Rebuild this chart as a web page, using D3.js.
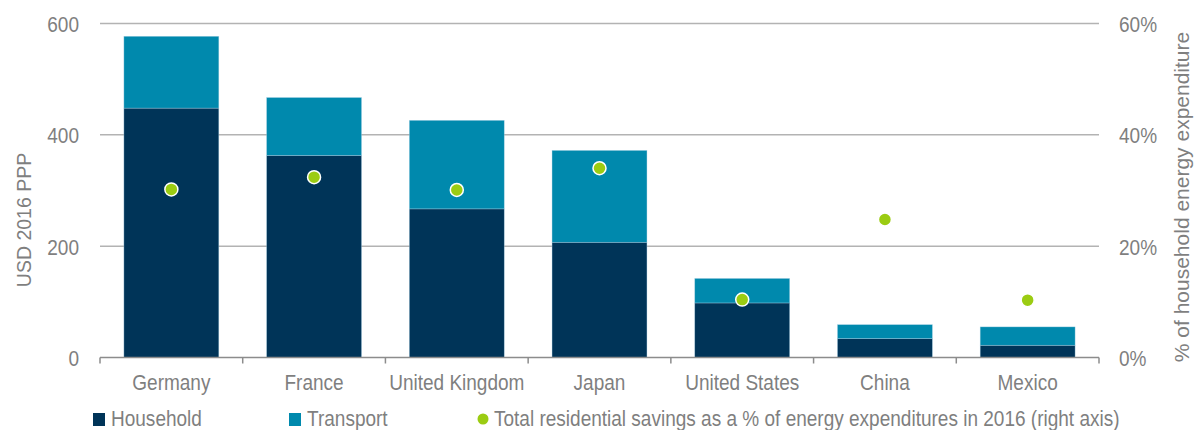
<!DOCTYPE html>
<html><head><meta charset="utf-8">
<script src="https://cdn.jsdelivr.net/npm/d3@7"></script>
<style>body{margin:0;background:#fff}svg{display:block;font-family:"Liberation Sans",Arial,sans-serif}</style>
</head><body><svg id="c" width="1198" height="430"></svg>
<script>
const categories = ["Germany","France","United Kingdom","Japan","United States","China","Mexico"];
const household = [448, 363, 267, 207, 98, 34, 22];
const transport = [129, 104, 159, 165, 44, 25, 33];
const savingsPct = [30.2, 32.4, 30.1, 34.0, 10.4, 24.8, 10.3];
const leftTicks = [0, 200, 400, 600];
const rightTicks = [0, 20, 40, 60];
const seriesNames = ["Household","Transport","Total residential savings as a % of energy expenditures in 2016 (right axis)"];
const colors = {Household:"#003458", Transport:"#0089ad", dot:"#9bcc12"};

const svg = d3.select("#c");
const L = 100, R = 1099, T = 23.5, B = 357.5;
const SX = 0.865, FS = 22;
const x = d3.scaleBand().domain(categories).range([L, R]).paddingInner(0.335).paddingOuter(0.1675);
const xb = d3.scaleBand().domain(categories).range([L, R]);
const y = d3.scaleLinear().domain([0, 600]).range([B, T]);
const y2 = d3.scaleLinear().domain([0, 60]).range([B, T]);
const grey = "#7f7f7f";

function label(sel, tx, ty, txt, anchor) {
  const g = sel.append("g").attr("transform", `translate(${tx},${ty}) scale(${SX},1)`);
  g.append("text").attr("text-anchor", anchor || "start").attr("font-size", FS).attr("fill", grey).text(txt);
  return g;
}

// gridlines
svg.append("g").selectAll("line").data(leftTicks.filter(d=>d>0)).join("line")
  .attr("x1", L).attr("x2", R).attr("y1", d=>y(d)).attr("y2", d=>y(d))
  .attr("stroke", "#b3b3b3").attr("stroke-width", 1.5);

// stacked bars
const data = categories.map((c,i)=>({cat:c, Household:household[i], Transport:transport[i]}));
const stack = d3.stack().keys(["Household","Transport"])(data);
svg.append("g").selectAll("g").data(stack).join("g").attr("fill", s=>colors[s.key])
  .selectAll("rect").data(s=>s).join("rect")
  .attr("x", d=>x(d.data.cat)).attr("width", x.bandwidth())
  .attr("y", d=>y(d[1])).attr("height", d=>y(d[0])-y(d[1]))
  .attr("stroke", "rgba(170,210,230,0.6)").attr("stroke-width", 0.6);

// bottom axis
const ax = svg.append("g");
ax.append("line").attr("x1", L).attr("x2", R).attr("y1", B).attr("y2", B).attr("stroke", "#8c8c8c").attr("stroke-width", 1.5);
const bounds = categories.map(c=>xb(c)).concat([R]);
ax.selectAll("line.t").data(bounds).join("line").attr("class","t")
  .attr("x1", d=>d).attr("x2", d=>d).attr("y1", B).attr("y2", B+6)
  .attr("stroke", "#8c8c8c").attr("stroke-width", 1.5);
categories.forEach(c => label(ax, xb(c)+xb.bandwidth()/2, 390, c, "middle"));

// left ticks
const lt = svg.append("g");
leftTicks.forEach(d => label(lt, 79, y(d)+8.5, d, "end"));
// right ticks
const rt = svg.append("g");
rightTicks.forEach(d => label(rt, 1119, y2(d)+8.5, d+"%", "start"));

// axis titles
svg.append("text").attr("transform","translate(31,220) rotate(-90)").attr("text-anchor","middle")
  .attr("font-size", 19.5).attr("fill", grey).text("USD 2016 PPP");
svg.append("text").attr("transform","translate(1189,197) rotate(-90)").attr("text-anchor","middle")
  .attr("font-size", 21).attr("fill", grey).text("% of household energy expenditure");

// dots
svg.append("g").selectAll("circle").data(savingsPct).join("circle")
  .attr("cx", (d,i)=>xb(categories[i])+xb.bandwidth()/2).attr("cy", d=>y2(d))
  .attr("r", 6.5).attr("fill", colors.dot).attr("stroke", "#fff").attr("stroke-width", 1.5);

// legend
const lg = svg.append("g");
lg.append("rect").attr("x", 93).attr("y", 413).attr("width", 12).attr("height", 13).attr("fill", colors.Household);
label(lg, 111, 426, seriesNames[0]);
lg.append("rect").attr("x", 289).attr("y", 413).attr("width", 12).attr("height", 13).attr("fill", colors.Transport);
label(lg, 307, 426, seriesNames[1]);
lg.append("circle").attr("cx", 483).attr("cy", 419).attr("r", 5.5).attr("fill", colors.dot);
label(lg, 494, 426, seriesNames[2]);
</script></body></html>
